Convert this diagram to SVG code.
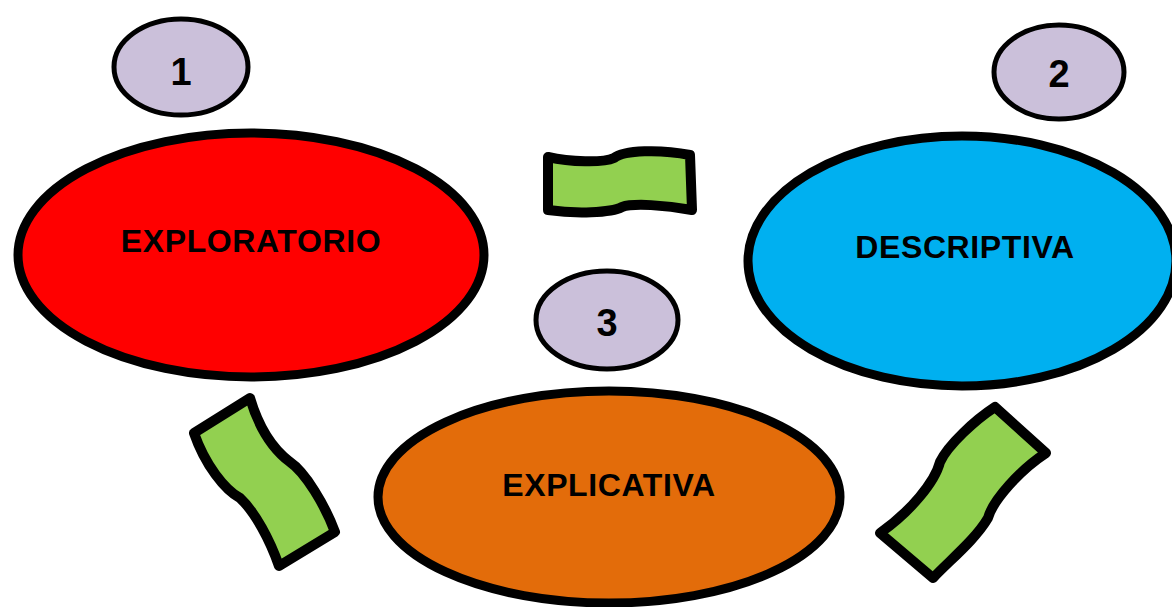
<svg xmlns="http://www.w3.org/2000/svg" width="1172" height="607" viewBox="0 0 1172 607">
<style>
.big{stroke:#000;stroke-width:9}
.num{fill:#CBC0DA;stroke:#000;stroke-width:5}
.lbl{font-family:"Liberation Sans",Arial,sans-serif;font-weight:bold;font-size:32px;letter-spacing:0.6px;text-anchor:middle;fill:#000}
.n{font-family:"Liberation Sans",Arial,sans-serif;font-weight:bold;font-size:38px;text-anchor:middle;fill:#000}
.wave{fill:#92D050;stroke:#000;stroke-width:10;stroke-linejoin:round;stroke-linecap:round}
</style>
<rect width="1172" height="607" fill="#fff"/>
<g id="connectors">
<path class="wave" d="M548,157 C570,162 603,163 614,158 C624,150 660,149 690,155 L692,210 C665,205 633,203 622,207 C611,213 575,214 548,210 Z"/>
<path class="wave" d="M250,398 C258,425 270,447 290,462 C305,472 325,505 335,532 L279,566 C270,540 255,512 240,498 C225,490 205,465 194,433 Z"/>
<path class="wave" d="M995,407 C975,420 948,445 940,462 C935,482 910,512 880,533 L933,578 C950,560 975,540 988,518 C993,500 1020,470 1046,453 Z"/>
</g>
<g id="exploratorio">
<ellipse class="big" cx="251" cy="255" rx="233" ry="122" fill="#FF0000"/>
<text class="lbl" x="251" y="252">EXPLORATORIO</text>
</g>
<g id="descriptiva">
<ellipse class="big" cx="962" cy="261" rx="214" ry="125" fill="#00B0F0"/>
<text class="lbl" x="965" y="258">DESCRIPTIVA</text>
</g>
<g id="explicativa">
<ellipse class="big" cx="609" cy="497" rx="231" ry="106" fill="#E36C0A"/>
<text class="lbl" x="609" y="496">EXPLICATIVA</text>
</g>
<g id="num1">
<ellipse class="num" cx="181" cy="67" rx="67" ry="48"/>
<text class="n" x="181" y="85">1</text>
</g>
<g id="num2">
<ellipse class="num" cx="1059" cy="72" rx="65" ry="47"/>
<text class="n" x="1059" y="87">2</text>
</g>
<g id="num3">
<ellipse class="num" cx="607" cy="320" rx="71" ry="49"/>
<text class="n" x="607" y="336">3</text>
</g>
</svg>
